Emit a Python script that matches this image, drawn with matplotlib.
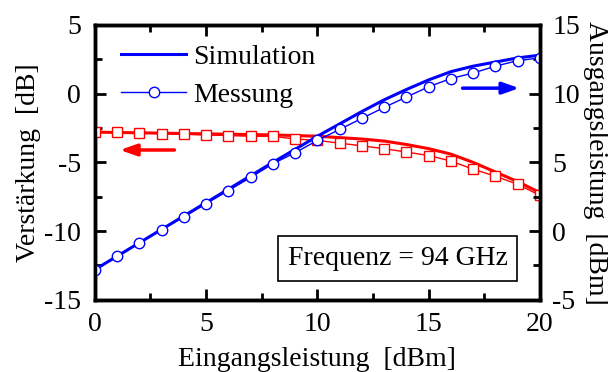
"""
Verstaerkung und Ausgangsleistung ueber der Eingangsleistung (94 GHz)
"""
import matplotlib
matplotlib.use('Agg')
import matplotlib.pyplot as plt
from matplotlib.ticker import MultipleLocator

plt.rcParams['font.family'] = ['Liberation Serif', 'DejaVu Serif']
plt.rcParams['axes.unicode_minus'] = False

# Eingangsleistung [dBm]
p_in_sim = [0, 2, 4, 6, 8, 10, 12, 13, 14, 15, 16, 17, 18, 19, 20]
p_in_meas = list(range(0, 21))

# Verstaerkung [dB] (linke Achse)
gain_sim = [-2.8, -2.85, -2.9, -2.95, -3.0, -3.1, -3.3, -3.45, -3.7, -4.0,
            -4.4, -5.0, -5.7, -6.4, -7.2]
gain_meas = [-2.8, -2.8, -2.85, -2.9, -2.95, -3.0, -3.05, -3.1, -3.1, -3.3,
             -3.4, -3.6, -3.8, -4.0, -4.25, -4.5, -4.9, -5.5, -6.0, -6.6, -7.4]

# Ausgangsleistung [dBm] (rechte Achse)
pout_sim = [-2.8, -0.85, 1.1, 3.05, 5.0, 6.9, 8.7, 9.55, 10.3, 11.0,
            11.6, 12.0, 12.3, 12.6, 12.8]
pout_meas = [-2.8, -1.8, -0.85, 0.1, 1.05, 2.0, 2.95, 3.9, 4.9, 5.7,
             6.6, 7.4, 8.2, 9.0, 9.75, 10.5, 11.1, 11.5, 12.0, 12.4, 12.6]

fig, ax = plt.subplots(figsize=(6.08, 3.72), dpi=100)
fig.subplots_adjust(left=0.156, right=0.888, bottom=0.194, top=0.933)
ax2 = ax.twinx()

fs = 20

# Verstaerkung
ax.plot(p_in_sim, gain_sim, color='red', lw=2.2, zorder=3)
ax.plot(p_in_meas, gain_meas, color='red', lw=1.0, marker='s', ms=7,
        mfc='white', mec='red', mew=1.0, zorder=3)

# Ausgangsleistung
l1, = ax2.plot(p_in_sim, pout_sim, color='blue', lw=2.2, label='Simulation')
l2, = ax2.plot(p_in_meas, pout_meas, color='blue', lw=1.0, marker='o', ms=7.5,
               mfc='white', mec='blue', mew=1.0, label='Messung')

ax.set_xlim(0, 20)
ax.set_ylim(-15, 5)
ax2.set_ylim(-5, 15)

for a in (ax, ax2):
    a.xaxis.set_major_locator(MultipleLocator(5))
    a.xaxis.set_minor_locator(MultipleLocator(2.5))
    a.yaxis.set_major_locator(MultipleLocator(5))
    a.yaxis.set_minor_locator(MultipleLocator(2.5))
    a.tick_params(which='both', direction='in', width=2, labelsize=fs, pad=9)
    a.tick_params(which='major', length=8)
    a.tick_params(which='minor', length=5)
    for s in a.spines.values():
        s.set_linewidth(2.5)

ax.tick_params(which='both', top=True, right=False)
ax.tick_params(axis='y', pad=10)
ax2.tick_params(which='both', left=False, right=True)

ax.set_xlabel('Eingangsleistung  [dBm]', fontsize=fs, labelpad=7)
ax.set_ylabel('Verstärkung  [dB]', fontsize=fs, labelpad=2)
ax2.set_ylabel('Ausgangsleistung  [dBm]', fontsize=fs, rotation=-90,
               labelpad=20)

# Pfeile
ax.annotate('', xy=(1.0, -4.1), xytext=(3.7, -4.1),
            arrowprops=dict(arrowstyle='-|>,head_length=1.0,head_width=0.35',
                            color='red', lw=2.5))
ax2.annotate('', xy=(19.2, 10.4), xytext=(16.4, 10.4),
             arrowprops=dict(arrowstyle='-|>,head_length=1.0,head_width=0.35',
                             color='blue', lw=2.5))

ax2.legend(handles=[l1, l2], loc='upper left', frameon=False, fontsize=fs,
           handlelength=2.35, handletextpad=0.25, labelspacing=0.45,
           borderaxespad=0.3, bbox_to_anchor=(0.015, 1.0))

ax2.text(0.68, 0.15, 'Frequenz = 94 GHz', transform=ax.transAxes,
         fontsize=fs, ha='center', va='center', zorder=5,
         bbox=dict(boxstyle='square,pad=0.35', fc='white', ec='black', lw=1.2))

fig.savefig('out.png', dpi=100)
